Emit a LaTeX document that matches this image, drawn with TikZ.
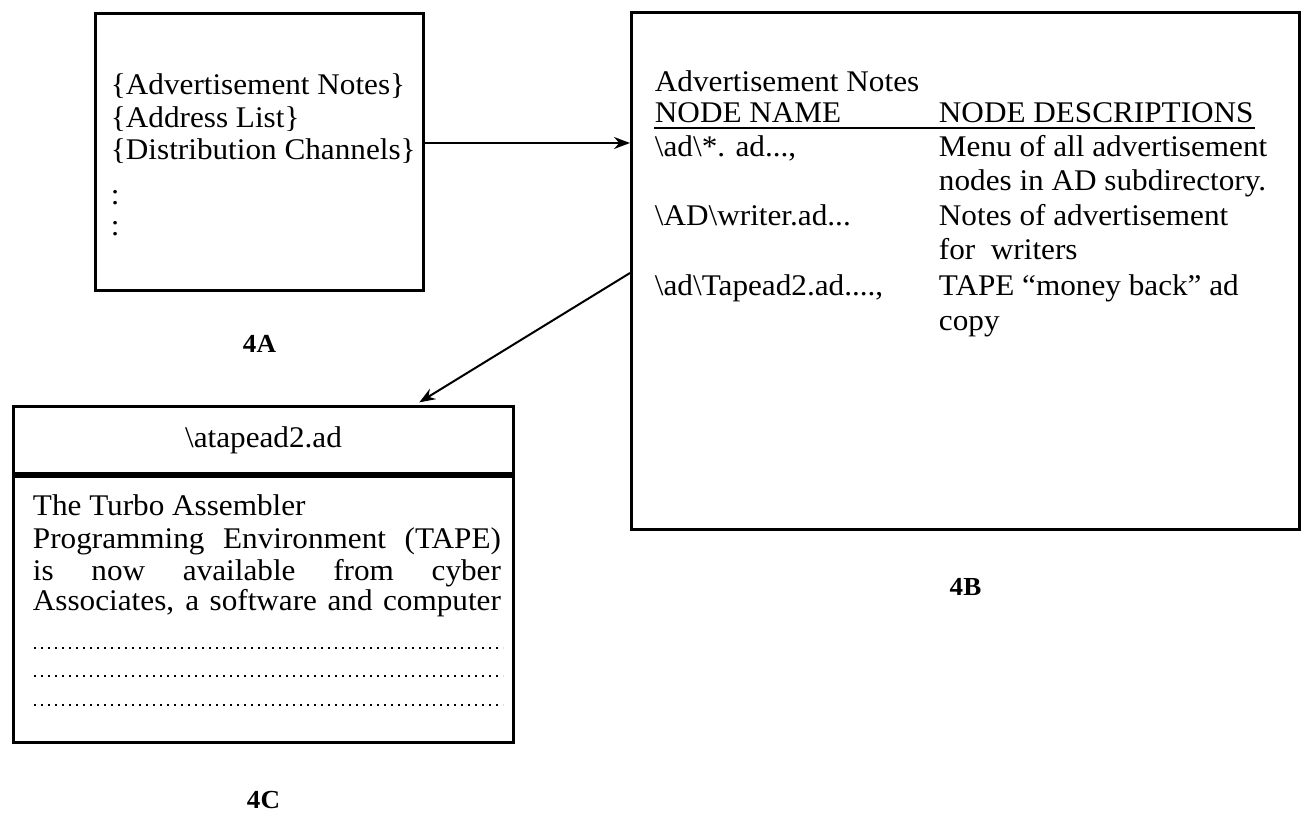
\documentclass[tikz,border=0pt]{standalone}
\usepackage{fontspec}
\setmainfont[FakeStretch=1.04]{Liberation Serif}
\usetikzlibrary{arrows.meta,positioning}

\begin{document}
\begin{tikzpicture}[x=1pt,y=-1pt,
  panel/.style={draw, line width=3pt, inner sep=0pt, anchor=north west},
  txt/.style={anchor=base west, inner sep=0.75pt, font=\fontsize{30}{32}\selectfont},
  tag/.style={inner sep=0.75pt, font=\fontsize{26}{28}\selectfont\bfseries},
  conn/.style={line width=2pt, -{Stealth[length=16pt,width=12pt]}},
  dotrow/.style={line width=2.5pt, dash pattern=on 2pt off 5pt}]
\useasboundingbox (0,0) rectangle (1303,818);

%Shape: Rectangle (list of note files)
\node[panel, minimum width=328pt, minimum height=277pt] (boxA) at (94,12) {};
% Text Node
\node[txt] (adA) at (110,95) {\{Advertisement Notes\}};
\node[txt] (addrA) at (110,128) {\{Address List\}};
\node[txt] (distA) at (110,160) {\{Distribution Channels\}};
\node[txt] (moreA) at (110,205) {:};
\node[txt] (etcA) at (110,236) {:};
\node[tag, below=42pt of boxA] (labA) {4A};

%Shape: Rectangle (node table)
\node[panel, minimum width=668pt, minimum height=517pt] (boxB) at (630,11) {};
% Text Node
\node[txt] (titleB) at (654,92) {Advertisement Notes};
\node[txt] (nameB) at (654,123) {NODE NAME};
\node[txt] (descB) at (938,123) {NODE DESCRIPTIONS};
\draw[line width=2pt] ([yshift=-5pt]nameB.base west) -- ([yshift=-5pt]descB.base east);
\node[txt] (fileB1) at (654,157) {\textbackslash ad\textbackslash *. ad...,};
\node[txt] (descB1) at (938,157) {Menu of all advertisement};
\node[txt] (descB1b) at (938,191) {nodes in AD subdirectory.};
\node[txt] (fileB2) at (654,226) {\textbackslash AD\textbackslash writer.ad...};
\node[txt] (descB2) at (938,226) {Notes of advertisement};
\node[txt] (descB2b) at (938,260) {for\ \ writers};
\node[txt] (fileB3) at (654,295) {\textbackslash ad\textbackslash Tapead2.ad....,};
\node[txt] (descB3) at (938,295) {TAPE ``money back'' ad};
\node[txt] (descB3b) at (938,330) {copy};
\node[tag, below=46pt of boxB] (labB) {4B};

%Shape: Rectangle (ad copy window)
\node[panel, minimum width=500pt, minimum height=67pt] (hdrC) at (12,405) {};
\node[panel, minimum width=500pt, minimum height=266pt] (boxC) at (hdrC.south west) {};
% Text Node
\node[txt, anchor=center] (titleC) at (hdrC.center) {\textbackslash atapead2.ad};
\node[txt] (lineC1) at (32,515) {The Turbo Assembler};
\node[txt] (lineC2) at (32,548) {\makebox[468pt][s]{Programming Environment (TAPE)}};
\node[txt] (lineC3) at (32,580) {\makebox[468pt][s]{is now available from cyber}};
\node[txt] (lineC4) at (32,610) {\makebox[468pt][s]{Associates, a software and computer}};
\foreach \dy in {173,201,230}
  \draw[dotrow] ([xshift=22pt,yshift=-\dy pt]boxC.north west) -- ([xshift=-12pt,yshift=-\dy pt]boxC.north east);
\node[tag, below=46pt of boxC] (labC) {4C};

%Straight Lines
\draw[conn] ([yshift=-131pt]boxA.north east) coordinate (outA) -- (outA -| boxB.west);
\draw[conn, shorten >=5pt] ([yshift=-262pt]boxB.north west) -- ([xshift=-100pt]hdrC.north east);
\end{tikzpicture}
\end{document}
